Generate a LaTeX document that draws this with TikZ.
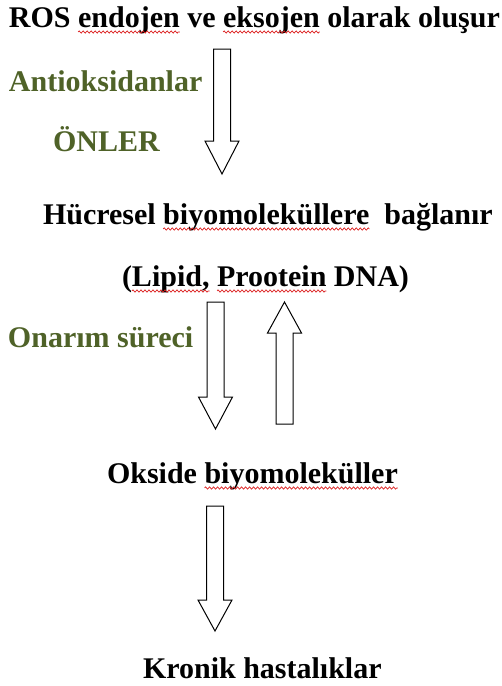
\documentclass[tikz,border=0pt]{standalone}
\usepackage{fontspec}
\setmainfont{Liberation Serif}
\usetikzlibrary{decorations.pathmorphing}
\definecolor{olivegreen}{RGB}{79,98,40}
\definecolor{squigred}{RGB}{220,30,30}
\newcommand\txtfont{\fontsize{30}{36}\selectfont\bfseries}
\newlength\wdtmp
\newcommand\setw[2]{\settowidth\wdtmp{\txtfont #2}\expandafter\xdef\csname wd#1\endcsname{\the\wdtmp}}
\newcommand\squig[3]{%
  \draw[squiggle] ([xshift=\csname wd#2\endcsname,yshift=-5pt]#1.base west) -- ([xshift=\csname wd#3\endcsname,yshift=-5pt]#1.base west);}
\newcommand\blockarrow[4]{% #1 x centre, #2 tail y, #3 head base y, #4 tip y
  \draw[blockarr] (#1-8.5,#2) -- (#1+8.5,#2) -- (#1+8.5,#3) -- (#1+17,#3) -- (#1,#4)
    -- (#1-17,#3) -- (#1-8.5,#3) -- cycle;}
\tikzset{
  txt/.style={anchor=base west, inner sep=0pt, outer sep=0pt, font=\txtfont, text=black},
  grn/.style={txt, text=olivegreen},
  squiggle/.style={draw=squigred, line width=0.7pt, decorate,
    decoration={zigzag, segment length=4pt, amplitude=1.1pt}},
  blockarr/.style={draw=black, line width=1pt, fill=white, line join=miter}
}
\begin{document}
\setw{ra}{ROS }\setw{rb}{ROS endojen}\setw{rc}{ROS endojen ve }\setw{rd}{ROS endojen ve eksojen}%
\setw{ha}{Hücresel }\setw{hb}{Hücresel biyomoleküllere}%
\setw{la}{(}\setw{lb}{(Lipid,}\setw{lc}{(Lipid, }\setw{ld}{(Lipid, Prootein}%
\setw{oa}{Okside }\setw{ob}{Okside biyomoleküller}%
\begin{tikzpicture}[x=1pt, y=-1pt]
\fill[white] (0,0) rectangle (502,686);
\useasboundingbox (0,0) rectangle (502,686);

% texts
\node[txt] (ros) at (9,27) {ROS endojen ve eksojen olarak oluşur};
\node[grn] (anti) at (9,91) {Antioksidanlar};
\node[grn] (onler) at (53,151) {ÖNLER};
\node[txt] (hucre) at (43,224) {Hücresel biyomoleküllere\ \ bağlanır};
\node[txt] (lipid) at (122,286) {(Lipid, Prootein DNA)};
\node[grn] (onarim) at (8,347) {Onarım süreci};
\node[txt] (okside) at (107,483) {Okside biyomoleküller};
\node[txt] (kronik) at (143,678) {Kronik hastalıklar};

% spelling squiggles
\squig{ros}{ra}{rb}
\squig{ros}{rc}{rd}
\squig{hucre}{ha}{hb}
\squig{lipid}{la}{lb}
\squig{lipid}{lc}{ld}
\squig{okside}{oa}{ob}

% block arrows
\blockarrow{222}{49}{141}{174}
\blockarrow{215.5}{302}{397}{429}
\blockarrow{284.5}{424}{333}{302}
\blockarrow{215}{506}{600}{631}
\end{tikzpicture}
\end{document}
